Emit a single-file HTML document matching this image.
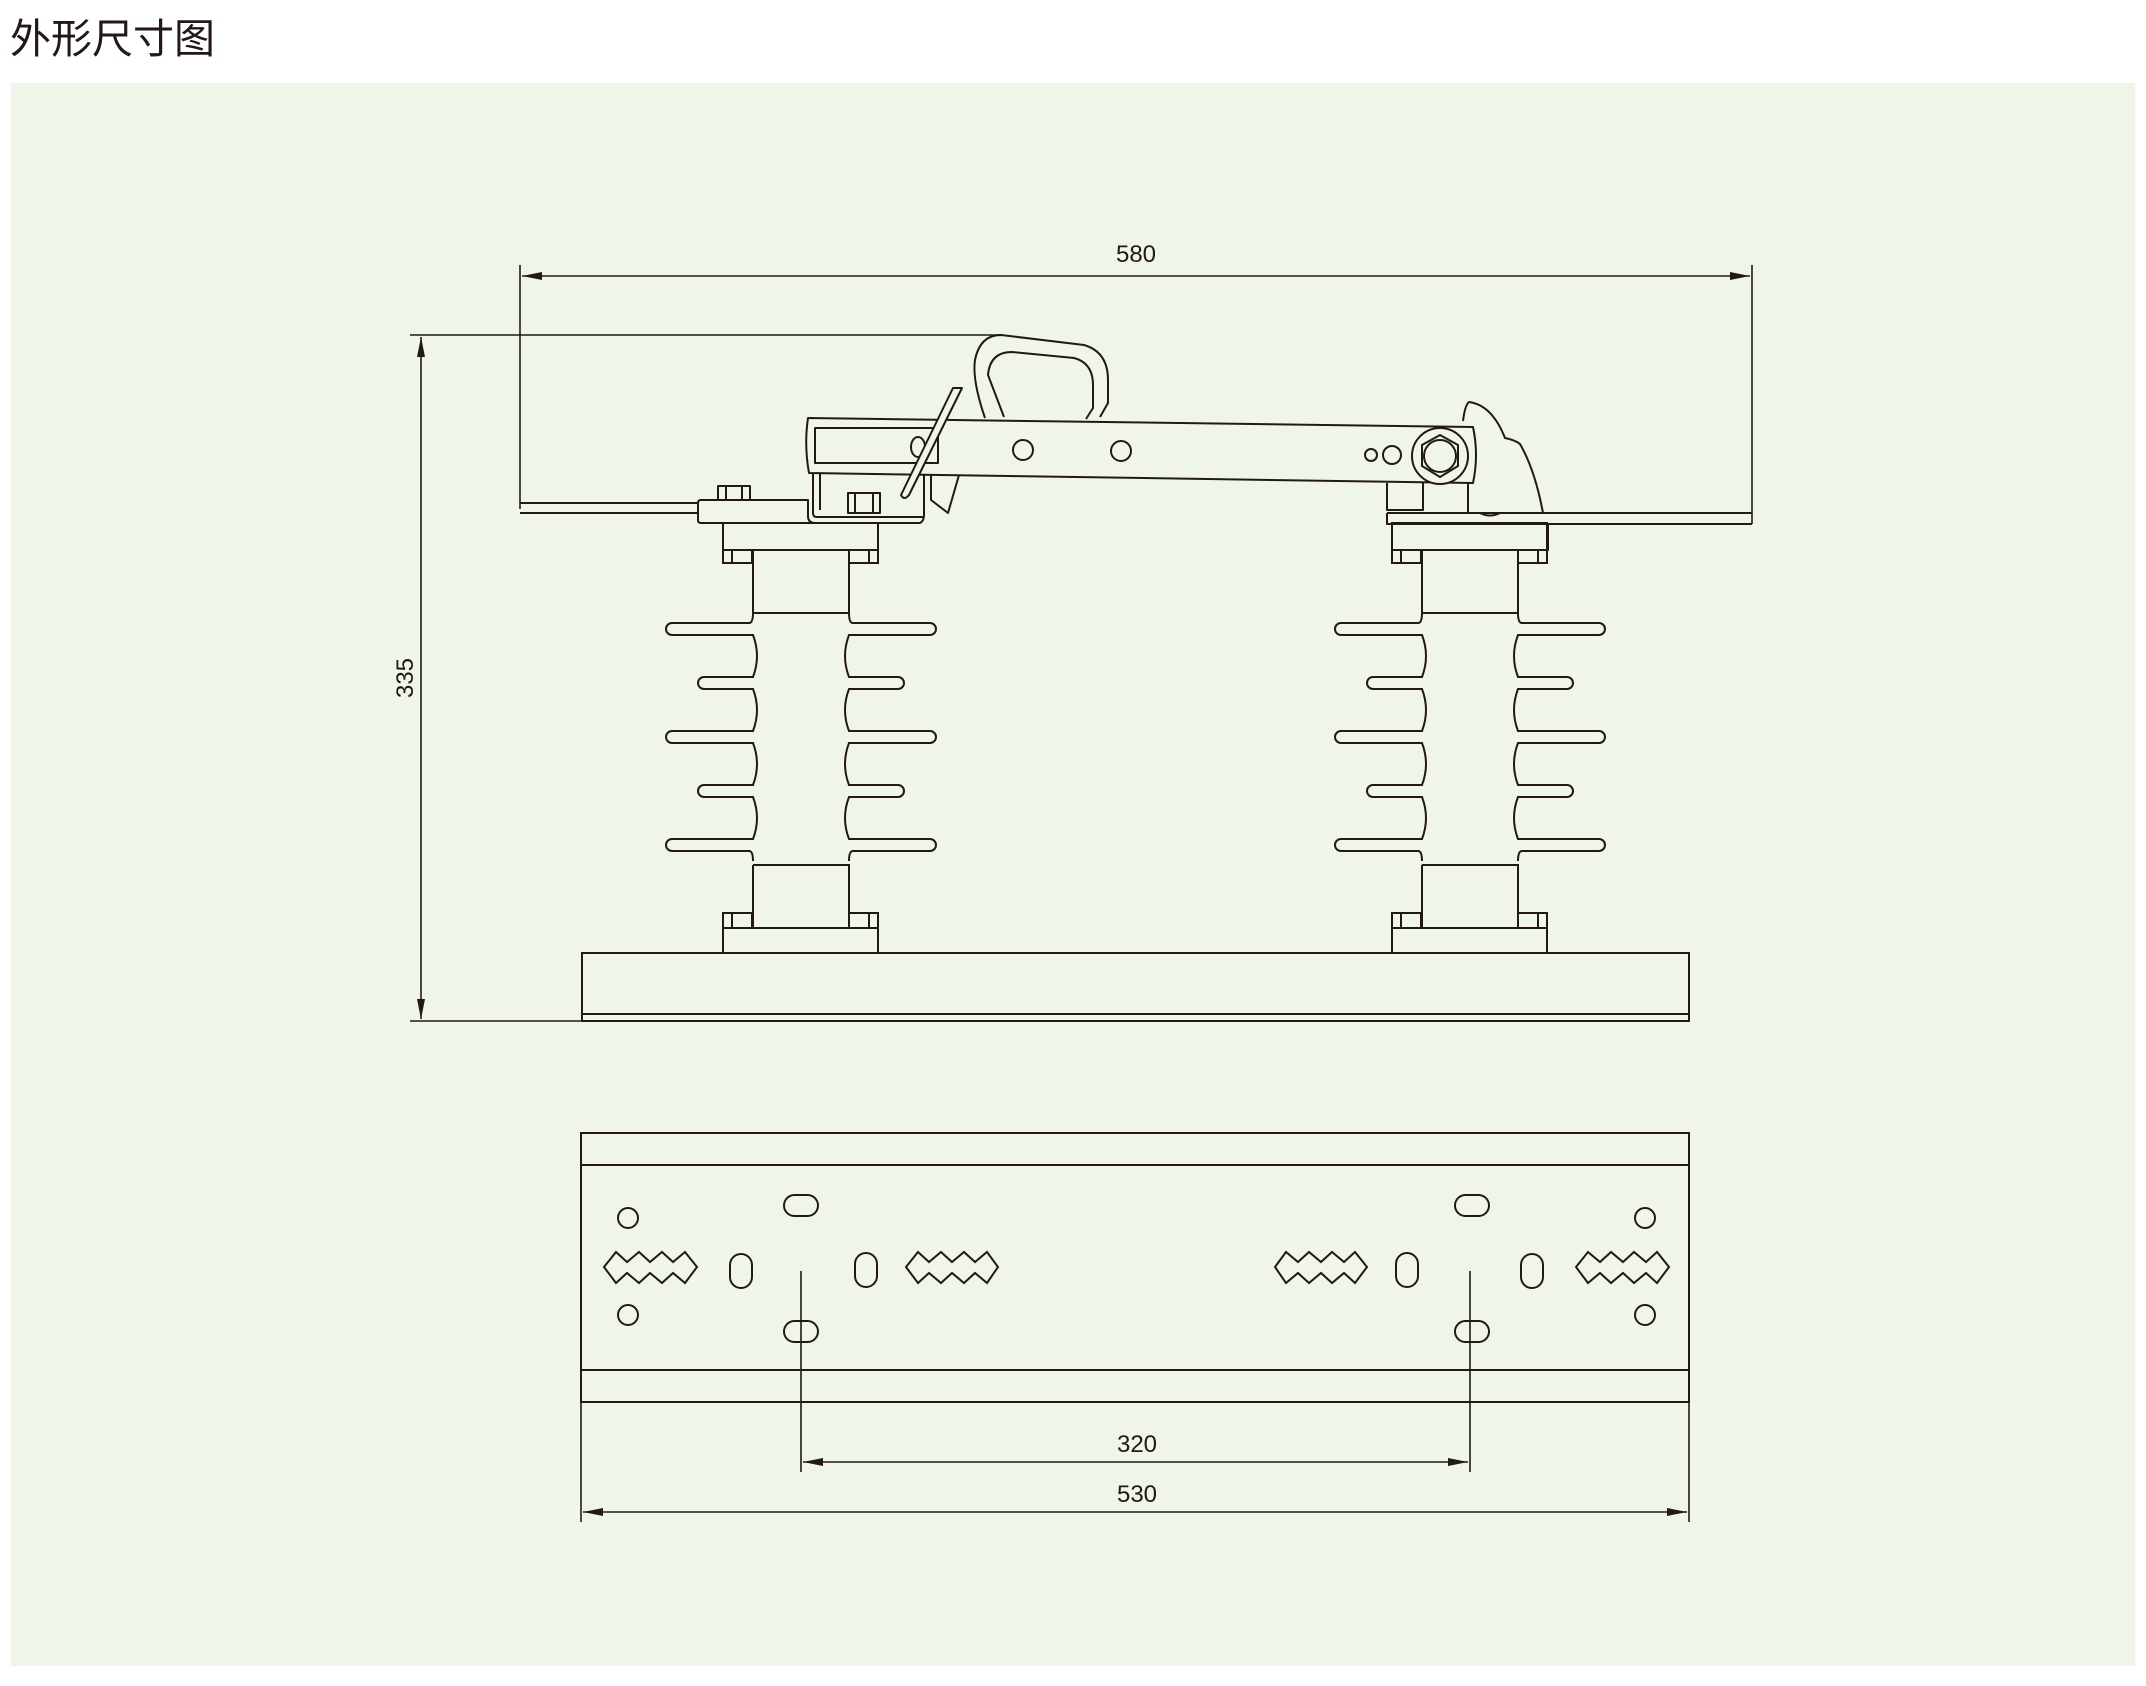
<!DOCTYPE html>
<html><head><meta charset="utf-8"><style>
html,body{margin:0;padding:0;background:#fff;}
body{width:2146px;height:1686px;position:relative;overflow:hidden;}
.t{position:absolute;left:10px;top:14px;font-family:"Liberation Sans","Noto Sans CJK SC",sans-serif;font-size:41px;color:#231815;line-height:50px;}
.p{position:absolute;left:11px;top:83px;width:2124px;height:1583px;background:#eff5e9;}
svg{position:absolute;left:0;top:0;}
</style></head><body>
<div class="t">外形尺寸图</div>
<div class="p"></div>
<svg width="2146" height="1686" viewBox="0 0 2146 1686" xmlns="http://www.w3.org/2000/svg">
<defs>
<g id="ins" fill="none" stroke="#231815" stroke-width="2">
 <rect x="723" y="523" width="155" height="27"/>
 <rect x="723" y="550" width="29" height="13"/><rect x="849" y="550" width="29" height="13"/>
 <line x1="732" y1="550" x2="732" y2="563"/><line x1="869" y1="550" x2="869" y2="563"/>
 <path d="M753,550 V613 H849 V550"/>
 <path id="side" d="M753,613 q0,10 -4,10 H672 a6,6 0 0 0 0,12 H753 q8,21 0,42 H704 a6,6 0 0 0 0,12 H753 q8,21 0,42 H672 a6,6 0 0 0 0,12 H753 q8,21 0,42 H704 a6,6 0 0 0 0,12 H753 q8,21 0,42 H672 a6,6 0 0 0 0,12 H749 q4,0 4,10"/>
 <use href="#side" transform="translate(1602,0) scale(-1,1)"/>
 <path d="M753,865 H849 V928 M753,865 V928"/>
 <rect x="723" y="913" width="29" height="15"/><rect x="849" y="913" width="29" height="15"/>
 <line x1="732" y1="913" x2="732" y2="928"/><line x1="869" y1="913" x2="869" y2="928"/>
 <rect x="723" y="928" width="155" height="25"/>
</g>
<g id="holes" fill="none" stroke="#231815" stroke-width="2">
 <circle cx="628" cy="1218" r="10"/><circle cx="628" cy="1315" r="10"/>
 <polygon points="604,1267 616,1252 627,1262 639,1252 650,1262 662,1252 673,1262 685,1252 697,1267 685,1283 673,1273 662,1283 650,1273 639,1283 627,1273 616,1283"/>
 <rect x="730" y="1254" width="22" height="34" rx="11"/>
 <rect x="784" y="1195" width="34" height="21" rx="10.5"/>
 <rect x="784" y="1321" width="34" height="21" rx="10.5"/>
 <rect x="855" y="1253" width="22" height="34" rx="11"/>
 <polygon points="906,1267 918,1252 929,1262 941,1252 952,1262 964,1252 975,1262 987,1252 998,1267 987,1283 975,1273 964,1283 952,1273 941,1283 929,1273 918,1283"/>
</g>
</defs>

<g stroke="#231815" stroke-width="1.6" fill="none">
 <line x1="520" y1="265" x2="520" y2="509"/>
 <line x1="1752" y1="265" x2="1752" y2="524"/>
 <line x1="522" y1="276" x2="1750" y2="276"/>
 <line x1="410" y1="335" x2="1001" y2="335"/>
 <line x1="410" y1="1021" x2="582" y2="1021"/>
 <line x1="421" y1="337" x2="421" y2="1019"/>
 <line x1="801" y1="1271" x2="801" y2="1472"/>
 <line x1="1470" y1="1271" x2="1470" y2="1472"/>
 <line x1="803" y1="1462" x2="1468" y2="1462"/>
 <line x1="581" y1="1402" x2="581" y2="1522"/>
 <line x1="1689" y1="1402" x2="1689" y2="1522"/>
 <line x1="583" y1="1512" x2="1687" y2="1512"/>
</g>
<g fill="#231815">
 <polygon points="522,276 542,272 542,280"/>
 <polygon points="1750,276 1730,272 1730,280"/>
 <polygon points="421,337 417,357 425,357"/>
 <polygon points="421,1019 417,999 425,999"/>
 <polygon points="803,1462 823,1458 823,1466"/>
 <polygon points="1468,1462 1448,1458 1448,1466"/>
 <polygon points="583,1512 603,1508 603,1516"/>
 <polygon points="1687,1512 1667,1508 1667,1516"/>
</g>
<g font-family="Liberation Sans, sans-serif" font-size="24" fill="#231815" text-anchor="middle">
 <text x="1136" y="262">580</text>
 <text x="1137" y="1452">320</text>
 <text x="1137" y="1502">530</text>
 <text transform="translate(413,678) rotate(-90)">335</text>
</g>

<g fill="none" stroke="#231815" stroke-width="2">
 <rect x="582" y="953" width="1107" height="68"/>
 <line x1="582" y1="1014" x2="1689" y2="1014"/>
</g>
<use href="#ins"/>
<use href="#ins" transform="translate(669,0)"/>

<g fill="none" stroke="#231815" stroke-width="2" stroke-linejoin="round">
 <line x1="520" y1="503" x2="698" y2="503"/>
 <line x1="520" y1="513" x2="698" y2="513"/>
 <path d="M698,503 q0,-3 3,-3 H808 V516 q0,7 7,7 H920 q4,-2 4,-8 V470"/>
 <path d="M698,503 V520 q0,3 3,3 H920"/>
 <rect x="718" y="486" width="32" height="14"/>
 <line x1="726" y1="486" x2="726" y2="500"/><line x1="742" y1="486" x2="742" y2="500"/>
 <path d="M813,473 V513 q0,4 4,4 H924"/>
 <path d="M820,473 V510"/>
 <rect x="848" y="493" width="32" height="20"/>
 <line x1="855" y1="493" x2="855" y2="513"/><line x1="873" y1="493" x2="873" y2="513"/>
 <path d="M931,475 L931,500 L948,513 L959,475"/>
 <path d="M985,418 Q972,380 975,360 Q980,335 1001,335 L1084,345 Q1108,352 1108,380 L1108,403 L1100,417"/>
 <path d="M1004,417 L988,375 Q990,352 1012,352 L1074,358 Q1093,363 1093,385 L1093,408 L1086,419"/>
 <path d="M808,418 L1473,427 Q1479,455 1473,483 L809,473 Q804,445 808,418 Z" fill="#eff5e9"/>
 <rect x="815" y="428" width="123" height="35" fill="none"/>
 <ellipse cx="918" cy="447" rx="7" ry="10"/>
 <circle cx="1023" cy="450" r="10"/>
 <circle cx="1121" cy="451" r="10"/>
 <circle cx="1371" cy="455" r="6"/>
 <circle cx="1392" cy="455" r="9"/>
 <ellipse cx="1440" cy="456" rx="28" ry="28" fill="#eff5e9"/>
 <polygon points="1440,435 1458,445 1458,466 1440,477 1422,466 1422,445"/>
 <circle cx="1440" cy="456" r="16"/>
 <path d="M1463,421 Q1465,405 1469,402 Q1492,405 1505,438 Q1515,440 1520,444 Q1535,470 1543,513"/>
 <path d="M1468,483 V513 L1480,513 Q1490,518 1500,513 L1543,513"/>
 <path d="M1387,483 V510 H1423 V483"/>
 <path d="M1387,513 H1752 M1387,513 V524 H1752"/>
 <rect x="1392" y="524" width="156" height="26"/>
 <path d="M953,388 L962,388 L909,495 Q904,501 901,495 Z" fill="#eff5e9"/>
</g>

<g fill="none" stroke="#231815" stroke-width="2">
 <rect x="581" y="1133" width="1108" height="269"/>
 <line x1="581" y1="1165" x2="1689" y2="1165"/>
 <line x1="581" y1="1370" x2="1689" y2="1370"/>
</g>
<use href="#holes"/>
<use href="#holes" transform="translate(2273,0) scale(-1,1)"/>
</svg>
</body></html>
